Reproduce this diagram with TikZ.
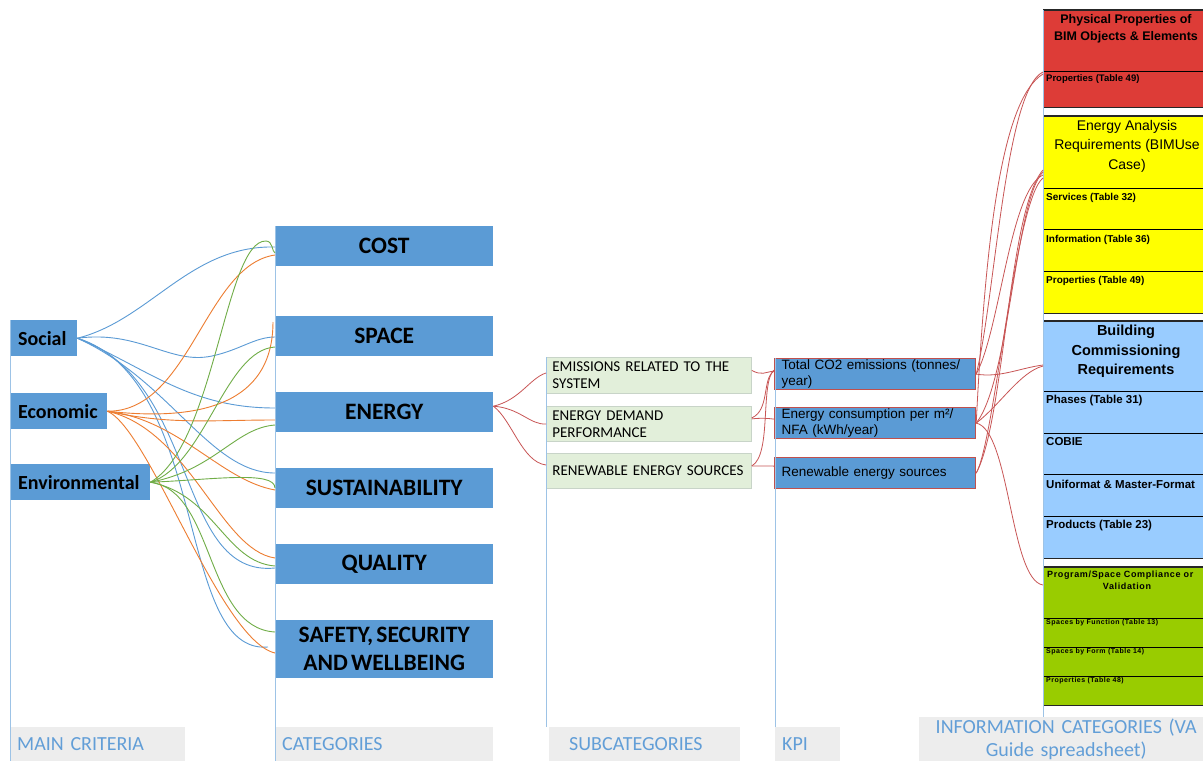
\documentclass[tikz,border=0pt]{standalone}
\usepackage{fontspec}
\usetikzlibrary{calc}
\newfontfamily\calfont{Carlito}
\newfontfamily\calfontn[WordSpace=0.6]{Carlito}
\newfontfamily\arfont{Liberation Sans}
\newfontfamily\arspaced[LetterSpace=7]{Liberation Sans}
\definecolor{cblue}{RGB}{91,155,213}
\definecolor{vlinec}{RGB}{157,195,230}
\definecolor{lblcol}{RGB}{98,158,215}
\definecolor{lgray}{RGB}{237,237,237}
\definecolor{subfill}{RGB}{226,239,218}
\definecolor{subdraw}{RGB}{200,212,200}
\definecolor{kpidraw}{RGB}{192,80,77}
\definecolor{redline}{RGB}{200,85,85}
\definecolor{corange}{RGB}{237,125,49}
\definecolor{cgreen}{RGB}{112,173,71}
\definecolor{ired}{RGB}{221,60,55}
\definecolor{iyel}{RGB}{255,255,0}
\definecolor{iblue}{RGB}{153,204,255}
\definecolor{igreen}{RGB}{153,204,0}
\tikzset{
  critbox/.style={fill=cblue, anchor=north west, inner ysep=0pt, inner xsep=8pt, minimum height=36pt, align=left, font=\calfont\bfseries\fontsize{20}{24}\selectfont},
  catbox/.style={fill=cblue, anchor=north west, inner sep=0pt, minimum width=218pt, minimum height=40pt, align=center, font=\calfont\bfseries\fontsize{23.5}{27}\selectfont},
  subbox/.style={fill=subfill, draw=subdraw, line width=0.8pt, anchor=north west, inner ysep=0pt, inner xsep=6pt, text width=193pt, minimum height=35pt, align=left, font=\calfontn\fontsize{15}{17}\selectfont},
  kpibox/.style={fill=cblue, draw=kpidraw, line width=1.2pt, anchor=north west, inner ysep=0pt, inner xsep=7pt, text width=187pt, minimum height=31pt, align=left, font=\arfont\fontsize{13.5}{15.7}\selectfont},
  lblbox/.style={fill=lgray, anchor=north west, inner ysep=0pt, minimum height=34pt, align=left, text=lblcol, font=\calfont\fontsize{20}{23}\selectfont},
  vcol/.style={draw=vlinec, line width=1pt},
  cb/.style={draw=cblue, line width=0.9pt},
  co/.style={draw=corange, line width=0.9pt},
  cg/.style={draw=cgreen, line width=0.9pt},
  cr/.style={draw=redline, line width=0.8pt},
  blk/.style={draw=black!85, line width=1.6pt},
  rowl/.style={draw=black, line width=1pt},
  infoblk/.style={anchor=north west, inner sep=0pt, minimum width=170pt},
  infotxt/.style={anchor=west, inner sep=0pt, font=\arfont\bfseries},
  infotitle/.style={anchor=north, inner sep=0pt, align=center, font=\arfont},
}
\begin{document}
\begin{tikzpicture}[x=1pt,y=-1pt]
\useasboundingbox (0,0) rectangle (1203,761);
\fill[white] (0,0) rectangle (1203,761);

% ---------- column labels ----------
\node[lblbox, minimum width=175pt, inner xsep=7pt, text width=161pt] (mainlbl) at (10,727) {MAIN CRITERIA};
\node[lblbox, minimum width=218pt, inner xsep=7pt, text width=204pt] (catlbl) at (275,727) {CATEGORIES};
\node[lblbox, minimum width=191pt, inner xsep=20pt, text width=151pt] (sublbl) at (549,727) {SUBCATEGORIES};
\node[lblbox, minimum width=65pt, inner xsep=7pt, text width=51pt] (kpilbl) at (775,727) {KPI};
\node[lblbox, minimum width=294pt, minimum height=44pt, inner xsep=0pt, text width=294pt, align=center] (infolbl) at (919,717) {INFORMATION CATEGORIES (VA\\Guide spreadsheet)};

% ---------- main criteria ----------
\node[critbox, text width=51pt] (soc) at (10,320) {Social};
\node[critbox, text width=81pt] (eco) at (10,393) {Economic};
\node[critbox, text width=124pt] (env) at (10,464) {Environmental};

% ---------- categories ----------
\node[catbox] (cost) at (275,226) {COST};
\node[catbox] (space) at (275,316) {SPACE};
\node[catbox] (energy) at (275,392) {ENERGY};
\node[catbox] (sust) at (275,468) {SUSTAINABILITY};
\node[catbox] (qual) at (275,544) {QUALITY};
\node[catbox, minimum height=58pt] (safe) at (275,620) {SAFETY, SECURITY\\[1pt]AND WELLBEING};

% ---------- subcategories ----------
\node[subbox, minimum height=36pt] (em) at (546,357) {EMISSIONS RELATED TO THE\\SYSTEM};
\node[subbox] (dem) at (546,406) {ENERGY DEMAND\\PERFORMANCE};
\node[subbox] (ren) at (546,453) {RENEWABLE ENERGY SOURCES};

% ---------- KPI ----------
\node[kpibox] (k1) at (774,358) {Total CO2 emissions (tonnes/\\year)};
\node[kpibox] (k2) at (774,407) {Energy consumption per m²/\\NFA (kWh/year)};
\node[kpibox] (k3) at (774,457) {Renewable energy sources};

% ---------- information categories ----------
\node[infoblk, fill=ired, minimum height=97pt] (phys) at (1043,10) {};
\node[infoblk, fill=iyel, minimum height=197pt] (ener) at (1043,116) {};
\node[infoblk, fill=iblue, minimum height=237pt] (comm) at (1043,321) {};
\node[infoblk, fill=igreen, minimum height=138pt] (prog) at (1043,567) {};

% block borders
\draw[blk] (phys.north west) -- (phys.north east);
\draw[blk] (phys.south west) -- (phys.south east);
\draw[rowl] (1043,71) -- (1213,71);
\draw[blk] (ener.north west) -- (ener.north east);
\draw[blk] (ener.south west) -- (ener.south east);
\draw[rowl] (1043,188) -- (1213,188);
\draw[rowl] (1043,229) -- (1213,229);
\draw[rowl] (1043,271) -- (1213,271);
\draw[blk] (comm.north west) -- (comm.north east);
\draw[blk] (comm.south west) -- (comm.south east);
\draw[rowl] (1043,391) -- (1213,391);
\draw[rowl] (1043,433) -- (1213,433);
\draw[rowl] (1043,474) -- (1213,474);
\draw[rowl] (1043,516) -- (1213,516);
\draw[blk] (prog.north west) -- (prog.north east);
\draw[blk] (prog.south west) -- (prog.south east);
\draw[rowl] (1043,618) -- (1213,618);
\draw[rowl] (1043,647) -- (1213,647);
\draw[rowl] (1043,676) -- (1213,676);

% info texts
\node[infotitle, font=\arfont\bfseries\fontsize{12.5}{17}\selectfont] (physT) at (1126,14) {Physical Properties of\\BIM Objects \& Elements};
\node[infotxt, font=\arfont\bfseries\fontsize{9.5}{11}\selectfont] (physR) at (1046,79) {Properties (Table 49)};
\node[infotitle, font=\arfont\fontsize{14}{19.5}\selectfont] (enerT) at (1127,120) {Energy Analysis\\Requirements (BIMUse\\Case)};
\node[infotxt, font=\arfont\bfseries\fontsize{10}{11}\selectfont] (ener1) at (1046,198) {Services (Table 32)};
\node[infotxt, font=\arfont\bfseries\fontsize{10}{11}\selectfont] (ener2) at (1046,240) {Information (Table 36)};
\node[infotxt, font=\arfont\bfseries\fontsize{10}{11}\selectfont] (ener3) at (1046,281) {Properties (Table 49)};
\node[infotitle, font=\arfont\bfseries\fontsize{14.5}{19.5}\selectfont] (commT) at (1126,325) {Building\\Commissioning\\Requirements};
\node[infotxt, font=\arfont\bfseries\fontsize{11.5}{13}\selectfont] (comm1) at (1046,401) {Phases (Table 31)};
\node[infotxt, font=\arfont\bfseries\fontsize{11.5}{13}\selectfont] (comm2) at (1046,442) {COBIE};
\node[infotxt, font=\arfont\bfseries\fontsize{11.5}{13}\selectfont] (comm3) at (1046,484) {Uniformat \& Master-Format};
\node[infotxt, font=\arfont\bfseries\fontsize{11.5}{13}\selectfont] (comm4) at (1046,526) {Products (Table 23)};
\node[infotxt, font=\arspaced\bfseries\fontsize{9}{11}\selectfont] (progT) at (1047,575) {Program/Space Compliance or};
\node[infotitle, font=\arspaced\bfseries\fontsize{9}{11}\selectfont] (progT2) at (1127,583) {Validation};
\node[infotxt, font=\arspaced\bfseries\fontsize{7}{8}\selectfont] (prog1) at (1046,623) {Spaces by Function (Table 13)};
\node[infotxt, font=\arspaced\bfseries\fontsize{7}{8}\selectfont] (prog2) at (1046,652) {Spaces by Form (Table 14)};
\node[infotxt, font=\arspaced\bfseries\fontsize{7}{8}\selectfont] (prog3) at (1046,681) {Properties (Table 48)};

% ---------- column lines ----------
\draw[vcol] (soc.north west) -- (mainlbl.south west);
\draw[vcol] (cost.north west) -- (catlbl.south west);
\draw[vcol] (em.north west) -- (em.north west |- sublbl.north);
\draw[vcol] ($(k1.north west)+(1,0)$) -- ($(k1.north west |- kpilbl.north)+(1,0)$);
\draw[vcol] (phys.north west) -- (phys.north west |- infolbl.north);

% ---------- Social (blue) ----------
\draw[cb] (soc.east) .. controls (150,320) and (190,245) .. ($(cost.north west)+(0,21)$);
\draw[cb] (soc.east) .. controls (140,330) and (170,365) .. (212,356) .. controls (240,350) and (255,337) .. ($(space.north west)+(0,21)$);
\draw[cb] (soc.east) .. controls (150,370) and (190,408) .. ($(energy.north west)+(0,16)$);
\draw[cb] (soc.east) .. controls (170,380) and (210,473) .. ($(sust.north west)+(0,5)$);
\draw[cb] (soc.east) .. controls (200,380) and (175,578) .. ($(qual.north west)+(0,24)$);
\draw[cb] (soc.east) .. controls (210,380) and (175,655) .. ($(safe.north west)+(-7,27)$);

% ---------- Economic (orange) ----------
\draw[co] (eco.east) .. controls (190,412) and (205,265) .. ($(cost.north west)+(0,29)$);
\draw[co] (eco.east) .. controls (230,425) and (273,385) .. ($(space.north west)+(-2,6)$);
\draw[co] (eco.east) .. controls (170,425) and (210,420) .. ($(energy.north west)+(0,28)$);
\draw[co] (eco.east) .. controls (180,420) and (220,480) .. ($(sust.north west)+(0,22)$);
\draw[co] (eco.east) .. controls (190,430) and (220,550) .. ($(qual.north west)+(0,14)$);
\draw[co] (eco.east) .. controls (150,430) and (220,640) .. ($(safe.north west)+(0,33)$);

% ---------- Environmental (green) ----------
\draw[cg] (env.east) .. controls (215,445) and (225,240) .. (266,241) .. controls (273,241) and (272,252) .. ($(cost.north west)+(0,27)$);
\draw[cg] (env.east) .. controls (205,465) and (225,350) .. ($(space.north west)+(0,31)$);
\draw[cg] (env.east) .. controls (215,470) and (235,428) .. ($(energy.north west)+(0,33)$);
\draw[cg] (env.east) .. controls (210,480) and (275,470) .. ($(sust.north west)+(0,20)$);
\draw[cg] (env.east) .. controls (215,495) and (225,562) .. ($(qual.north west)+(0,22)$);
\draw[cg] (env.east) .. controls (215,490) and (205,628) .. ($(safe.north west)+(0,12)$);

% ---------- Energy -> subcategories ----------
\draw[cr] ($(energy.east)+(0,-6)$) .. controls (520,400) and (530,378) .. ($(em.north west)+(0,16)$);
\draw[cr] ($(energy.east)+(0,-6)$) .. controls (520,408) and (530,425) .. ($(dem.north west)+(0,18)$);
\draw[cr] ($(energy.east)+(0,-6)$) .. controls (512,420) and (522,462) .. ($(ren.north west)+(0,12)$);

% ---------- subcategories -> KPI ----------
\draw[cr] ($(em.east)+(0,-5)$) .. controls (762,376) and (765,372) .. ($(k1.west)+(0,-3)$);
\draw[cr] ($(dem.east)+(0,-6)$) .. controls (770,410) and (762,378) .. ($(k1.west)+(0,-3)$);
\draw[cr] ($(dem.east)+(0,-5)$) .. controls (760,418) and (765,418) .. ($(k2.west)+(0,-4)$);
\draw[cr] ($(ren.east)+(0,-5)$) .. controls (772,455) and (760,382) .. ($(k1.west)+(0,-4)$);
\draw[cr] ($(ren.east)+(0,-5)$) -- ($(k3.west)+(0,-7)$);

% ---------- KPI -> information categories ----------
\draw[cr] (k1.east) .. controls (995,300) and (1005,90) .. ($(phys.north west)+(0,62)$);
\draw[cr] (k1.east) .. controls (1000,330) and (1010,190) .. ($(ener.north west)+(0,59)$);
\draw[cr] (k1.east) .. controls (1000,378) and (1020,368) .. ($(comm.north west)+(0,44)$);
\draw[cr] (k2.east) .. controls (985,250) and (1000,100) .. ($(phys.north west)+(0,64)$);
\draw[cr] (k2.east) .. controls (1010,380) and (1015,200) .. ($(ener.north west)+(0,56)$);
\draw[cr] (k2.east) .. controls (1000,405) and (1020,372) .. ($(comm.north west)+(0,45)$);
\draw[cr] (k2.east) .. controls (1010,430) and (1010,580) .. ($(prog.north west)+(0,18)$);
\draw[cr] (k3.east) .. controls (995,440) and (1015,200) .. ($(ener.north west)+(0,62)$);
\draw[cr] (k3.east) .. controls (1005,420) and (1008,210) .. ($(ener.north west)+(0,54)$);
\end{tikzpicture}
\end{document}
